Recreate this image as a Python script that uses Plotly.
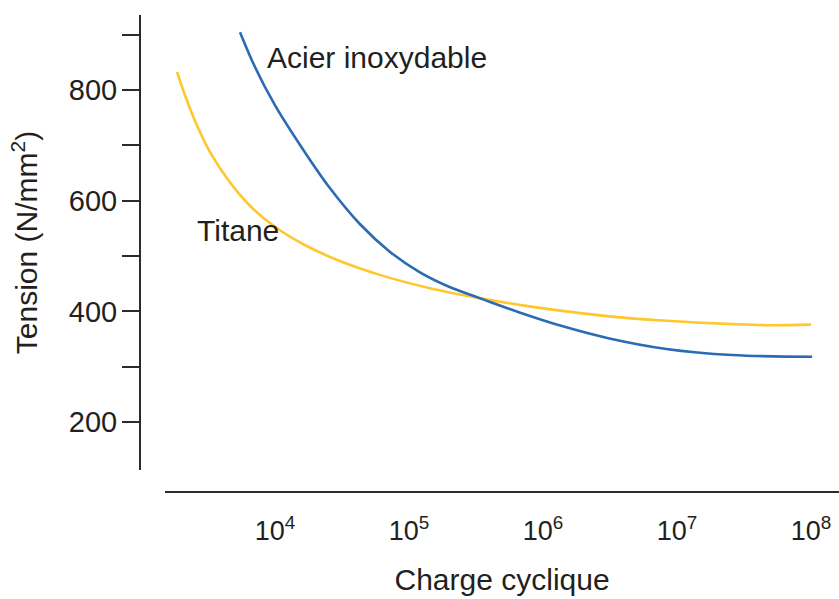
import plotly.graph_objects as go

# Titane (yellow)
ti_cycles = [1.86e3, 2.14e3, 2.54e3, 3.28e3, 4.47e3, 6.51e3, 1.0e4, 1.67e4, 3.05e4,
             6.06e4, 1.43e5, 3.37e5, 7.93e5, 3.13e6, 8.32e6, 2.58e7, 4.62e7, 1.0e8]
ti_stress = [833, 790, 744, 688, 638, 591, 553, 520, 491,
             466, 442, 424, 409, 391, 383, 377, 375, 376]

# Acier inoxydable (blue)
ss_cycles = [5.49e3, 7.10e3, 1.0e4, 1.54e4, 2.57e4, 4.30e4, 7.19e4, 1.20e5, 2.01e5,
             3.37e5, 6.68e5, 1.45e6, 3.13e6, 8.32e6, 2.58e7, 1.02e8]
ss_stress = [905, 842, 773, 701, 623, 558, 508, 471, 444,
             424, 398, 372, 351, 332, 321, 318]

y_ticks = [200, 300, 400, 500, 600, 700, 800, 900]
y_labels = ["200", "", "400", "", "600", "", "800", ""]
x_ticks = [1e4, 1e5, 1e6, 1e7, 1e8]
x_labels = ["10<sup>4</sup>", "10<sup>5</sup>", "10<sup>6</sup>", "10<sup>7</sup>", "10<sup>8</sup>"]

FONT = "Liberation Sans, Arial, sans-serif"
TXT = "#231f20"
AX = "#2b2b2b"

fig = go.Figure()
fig.add_trace(go.Scatter(x=ti_cycles, y=ti_stress, mode="lines", name="Titane",
                         line=dict(color="#FFC72C", width=2.6, shape="spline", smoothing=1)))
fig.add_trace(go.Scatter(x=ss_cycles, y=ss_stress, mode="lines", name="Acier inoxydable",
                         line=dict(color="#2B6BB3", width=2.6, shape="spline", smoothing=1)))

fig.add_annotation(x=3.925, y=860, text="Acier inoxydable", showarrow=False,
                   xanchor="left", yanchor="middle", font=dict(size=30, color=TXT, family=FONT))
fig.add_annotation(x=3.40, y=547, text="Titane", showarrow=False,
                   xanchor="left", yanchor="middle", font=dict(size=30, color=TXT, family=FONT))

fig.update_layout(
    width=839, height=599,
    margin=dict(l=140, r=0, t=15, b=107),
    paper_bgcolor="white", plot_bgcolor="white",
    showlegend=False,
    font=dict(family=FONT, color=TXT),
    xaxis=dict(
        type="log", range=[3.181, 8.209], domain=[0.036, 1],
        anchor="free", position=0, automargin=False,
        showgrid=False, zeroline=False,
        showline=True, linecolor=AX, linewidth=2,
        ticks="", tickvals=x_ticks, ticktext=x_labels,
        tickfont=dict(size=27, color=TXT), ticklabelstandoff=15,
        title=dict(text="Charge cyclique", font=dict(size=30, color=TXT), standoff=23),
    ),
    yaxis=dict(
        range=[113, 936], domain=[0.046, 1],
        anchor="free", position=0, automargin=False,
        showgrid=False, zeroline=False,
        showline=True, linecolor=AX, linewidth=2,
        ticks="outside", ticklen=17, tickwidth=2, tickcolor=AX,
        tickvals=y_ticks, ticktext=y_labels,
        tickfont=dict(size=29, color=TXT), ticklabelstandoff=-1,
        title=dict(text="Tension (N/mm<sup>2</sup>)", font=dict(size=30, color=TXT), standoff=21),
    ),
)

# the page's default body margin would push the figure 8px off the corner
fig.write_html("out.html", config={"displayModeBar": False},
               post_script="document.body.style.margin='0';")
